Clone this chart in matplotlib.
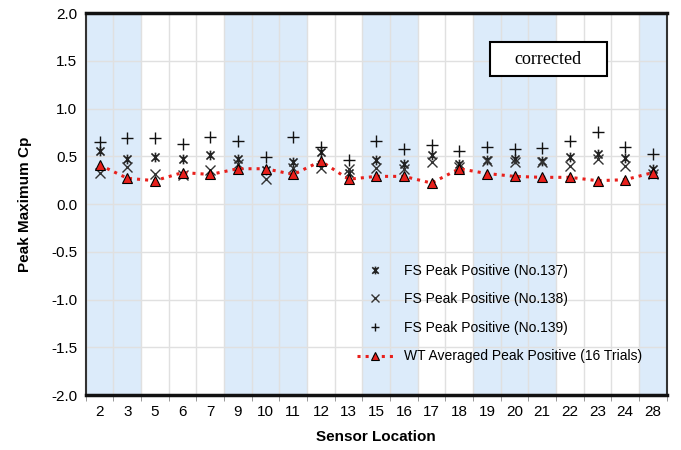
import matplotlib.pyplot as plt
import numpy as np
from matplotlib.path import Path
from matplotlib.patches import Rectangle

plt.rcParams['font.family'] = ['Liberation Sans', 'DejaVu Sans']

sensors = ['2', '3', '5', '6', '7', '9', '10', '11', '12', '13', '15', '16', '17', '18',
           '19', '20', '21', '22', '23', '24', '28']
fs137 = [0.56, 0.47, 0.49, 0.47, 0.51, 0.47, 0.36, 0.44, 0.54, 0.33, 0.46, 0.42, 0.51, 0.42,
         0.46, 0.47, 0.45, 0.49, 0.52, 0.48, 0.37]
fs138 = [0.33, 0.39, 0.31, 0.30, 0.36, 0.42, 0.26, 0.38, 0.38, 0.37, 0.38, 0.37, 0.44, 0.39,
         0.45, 0.44, 0.44, 0.40, 0.47, 0.40, 0.31]
fs139 = [0.65, 0.69, 0.69, 0.63, 0.70, 0.66, 0.49, 0.70, 0.60, 0.46, 0.66, 0.58, 0.62, 0.56,
         0.60, 0.58, 0.59, 0.66, 0.75, 0.60, 0.52]
wt_avg = [0.41, 0.27, 0.245, 0.33, 0.31, 0.37, 0.37, 0.31, 0.45, 0.26, 0.29, 0.29, 0.22, 0.37,
          0.32, 0.29, 0.28, 0.28, 0.245, 0.255, 0.33]
shaded = ['2', '3', '9', '10', '11', '15', '16', '19', '20', '21', '28']

# excel-like star marker: x plus vertical bar
star = Path([(-1, -1), (1, 1), (-1, 1), (1, -1), (0, -1.2), (0, 1.2)],
            [Path.MOVETO, Path.LINETO, Path.MOVETO, Path.LINETO, Path.MOVETO, Path.LINETO])

x = np.arange(len(sensors))

fig, ax = plt.subplots(figsize=(6.81, 4.5), dpi=100)
fig.subplots_adjust(left=0.126, right=0.979, top=0.971, bottom=0.122)

for i, s in enumerate(sensors):
    if s in shaded:
        ax.axvspan(i - 0.5, i + 0.5, color='#dcebfa', lw=0, zorder=0)

ax.plot(x, fs137, ls='none', marker=star, ms=7, mew=1.2, color='#222222', label='FS Peak Positive (No.137)', zorder=3)
ax.plot(x, fs138, ls='none', marker='x', ms=7, mew=1.0, color='#333333', label='FS Peak Positive (No.138)', zorder=3)
ax.plot(x, fs139, ls='none', marker='+', ms=8, mew=1.0, color='#111111', label='FS Peak Positive (No.139)', zorder=3)
ax.plot(x, wt_avg, ls=':', lw=2.2, color='#e8201c', marker='^', ms=7, mfc='#e8201c', mec='black', mew=0.8,
        label='WT Averaged Peak Positive (16 Trials)', zorder=4)

ax.set_xlim(-0.5, len(sensors) - 0.5)
ax.set_ylim(-2.0, 2.0)
ax.set_yticks(np.arange(-2.0, 2.01, 0.5))
ax.set_yticklabels(['%.1f' % v for v in np.arange(-2.0, 2.01, 0.5)], fontsize=11)
ax.set_xticks(x)
ax.set_xticklabels(sensors, fontsize=11)
ax.set_xticks(np.arange(-0.5, len(sensors)), minor=True)
ax.tick_params(axis='x', which='major', length=0, pad=7)
ax.tick_params(axis='x', which='minor', length=4, color='#888888')
ax.tick_params(axis='y', length=0, pad=6)
ax.grid(axis='y', color='#e0e0e0', lw=1)
ax.grid(axis='x', which='minor', color='#e0e0e0', lw=1)
ax.set_axisbelow(True)

for side in ['top', 'bottom']:
    ax.spines[side].set_linewidth(2.5)
    ax.spines[side].set_color('#111111')
for side in ['left', 'right']:
    ax.spines[side].set_linewidth(1.5)
    ax.spines[side].set_color('#333333')

ax.set_xlabel('Sensor Location', fontsize=11, fontweight='bold', labelpad=8)
ax.set_ylabel('Peak Maximum Cp', fontsize=11, fontweight='bold', labelpad=14)

ax.add_patch(Rectangle((0.695, 0.835), 0.202, 0.089, transform=ax.transAxes,
                       fc='white', ec='black', lw=1.5, zorder=5))
ax.text(0.796, 0.878, 'corrected', transform=ax.transAxes, ha='center', va='center',
        fontsize=13, family='Liberation Serif', zorder=6)

ax.legend(loc='lower left', bbox_to_anchor=(0.445, 0.05), frameon=False, fontsize=10,
          handlelength=2.6, labelspacing=1.05, markerscale=0.8)

plt.savefig('out.png', dpi=100)
